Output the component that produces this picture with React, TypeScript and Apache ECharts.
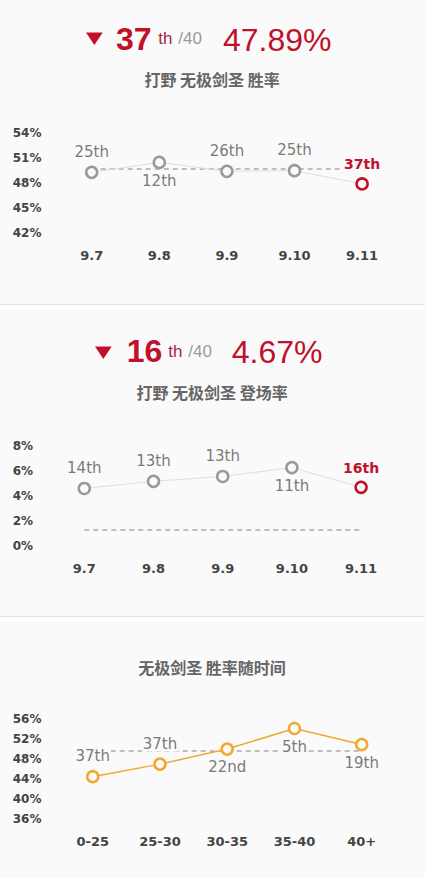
import React, { useEffect, useRef } from "react";
import * as echarts from "echarts";

// ---- data ----
const patches = ["9.7", "9.8", "9.9", "9.10", "9.11"];
const winRate = [49.27, 50.46, 49.39, 49.47, 47.89];
const winRank = ["25th", "12th", "26th", "25th", "37th"];
const winRankSide = ["top", "bottom", "top", "top", "top"];
const winAvg = 49.7;
const winTicks = { min: 42, max: 54, interval: 3 };

const pickRate = [4.58, 5.15, 5.54, 6.25, 4.67];
const pickRank = ["14th", "13th", "13th", "11th", "16th"];
const pickRankSide = ["top", "top", "top", "bottom", "top"];
const pickAvg = 1.26;
const pickTicks = { min: 0, max: 8, interval: 2 };

const durations = ["0-25", "25-30", "30-35", "35-40", "40+"];
const durWin = [44.5, 47.0, 50.0, 54.1, 50.9];
const durRank = ["37th", "37th", "22nd", "5th", "19th"];
const durRankSide = ["top", "top", "bottom", "bottom", "bottom"];
const durAvg = 49.7;
const durTicks = { min: 36, max: 56, interval: 4 };

const header1 = { rank: "37", total: "/40", value: "47.89%", title: "打野 无极剑圣 胜率" };
const header2 = { rank: "16", total: "/40", value: "4.67%", title: "打野 无极剑圣 登场率" };
const title3 = "无极剑圣 胜率随时间";

const BG = "#fafafa";
const RED = "#c0102a";
const GREY_PT = "#999999";
const ORANGE = "#f0a830";
const CJK = "'Noto Sans CJK SC', sans-serif";
const LATIN = "'Liberation Sans', Arial, sans-serif";
const AXISF = "'DejaVu Sans', Verdana, sans-serif";

function buildSeries(
  idx: number,
  cats: string[],
  values: number[],
  ranks: string[],
  sides: string[],
  avg: number,
  lineColor: string,
  lineWidth: number,
  ptColor: string,
  lastRed: boolean
) {
  const data = values.map((v, i) => {
    const isRed = lastRed && i === values.length - 1;
    const side = sides[i];
    return {
      value: v,
      itemStyle: { borderColor: isRed ? RED : ptColor },
      label: {
        show: true,
        formatter: ranks[i],
        position: side,
        distance: side === "top" ? 6 : 4,
        color: isRed ? RED : "#7a7a7a",
        fontWeight: isRed ? "bold" : "normal",
        fontSize: isRed ? 14 : 15,
        fontFamily: AXISF,
        backgroundColor: BG,
        padding: [0, 1],
      },
    };
  });
  return {
    type: "line",
    xAxisIndex: idx,
    yAxisIndex: idx,
    data,
    symbol: "circle",
    symbolSize: 11,
    itemStyle: { color: BG, borderColor: ptColor, borderWidth: 2.5 },
    lineStyle: { color: lineColor, width: lineWidth },
    emphasis: { disabled: true },
    z: 3,
    markLine: {
      silent: true,
      symbol: ["none", "none"],
      label: { show: false },
      lineStyle: { type: [5, 4], color: "#aaaaaa", width: 1.5 },
      z: 2,
      data: [[{ coord: [cats[0], avg] }, { coord: [cats[cats.length - 1], avg] }]],
    },
  };
}

function header(h: typeof header1, triX: number, triTop: number, rankX: number, cy: number, thX: number, totalX: number, smallCy: number, valX: number, titleY: number) {
  return [
    {
      type: "polygon",
      shape: { points: [[triX, triTop], [triX + 16.7, triTop], [triX + 8.35, triTop + 12.5]] },
      style: { fill: RED },
    },
    {
      type: "text",
      x: rankX,
      y: cy,
      style: { text: h.rank, fill: RED, font: `bold 32px ${LATIN}`, align: "left", verticalAlign: "middle", textAlign: "left", textVerticalAlign: "middle" },
    },
    {
      type: "text",
      x: thX,
      y: smallCy,
      style: { text: "th", fill: "#a3283e", font: `17px ${LATIN}`, align: "left", verticalAlign: "middle", textAlign: "left", textVerticalAlign: "middle" },
    },
    {
      type: "text",
      x: totalX,
      y: smallCy,
      style: { text: h.total, fill: "#9a9a9a", font: `17px ${LATIN}`, align: "left", verticalAlign: "middle", textAlign: "left", textVerticalAlign: "middle" },
    },
    {
      type: "text",
      x: valX,
      y: cy + 0.7,
      style: { text: h.value, fill: RED, font: `32px ${LATIN}`, align: "left", verticalAlign: "middle", textAlign: "left", textVerticalAlign: "middle" },
    },
    {
      type: "text",
      x: 212,
      y: titleY,
      style: { text: h.title, fill: "#666666", font: `bold 16px ${CJK}`, align: "center", verticalAlign: "middle", textAlign: "center", textVerticalAlign: "middle" },
    },
  ];
}

export default function App() {
  const ref = useRef<HTMLDivElement>(null);
  useEffect(() => {
    if (!ref.current) return;
    const chart = echarts.init(ref.current, undefined, { renderer: "svg" });

    const grids = [
      { left: 57.9, top: 132.7, width: 338, height: 100.6 },
      { left: 49.7, top: 445.7, width: 346, height: 100 },
      { left: 59.1, top: 719, width: 336.2, height: 100.3 },
    ];
    const yMargins = [45.2, 37, 46.4];
    const ticks = [winTicks, pickTicks, durTicks];
    const cats = [patches, patches, durations];

    const option: any = {
      animation: false,
      backgroundColor: BG,
      grid: grids.map((g) => ({ ...g, containLabel: false })),
      xAxis: cats.map((c, i) => ({
        type: "category",
        gridIndex: i,
        data: c,
        boundaryGap: true,
        axisLine: { show: false },
        axisTick: { show: false },
        splitLine: { show: false },
        axisLabel: { color: "#444444", fontWeight: "bold", fontSize: 13, fontFamily: AXISF, margin: 16 },
      })),
      yAxis: ticks.map((t, i) => ({
        type: "value",
        gridIndex: i,
        min: t.min,
        max: t.max,
        interval: t.interval,
        axisLine: { show: false },
        axisTick: { show: false },
        splitLine: { show: false },
        axisLabel: {
          formatter: "{value}%",
          color: "#444444",
          fontWeight: "bold",
          fontSize: 12,
          fontFamily: AXISF,
          align: "left",
          margin: yMargins[i],
        },
      })),
      series: [
        buildSeries(0, patches, winRate, winRank, winRankSide, winAvg, "#dddddd", 1, GREY_PT, true),
        buildSeries(1, patches, pickRate, pickRank, pickRankSide, pickAvg, "#dddddd", 1, GREY_PT, true),
        buildSeries(2, durations, durWin, durRank, durRankSide, durAvg, ORANGE, 1.5, ORANGE, false),
      ],
      graphic: [
        { type: "rect", shape: { x: 0, y: 305, width: 425, height: 5 }, style: { fill: "#fdfdfd" }, silent: true },
        { type: "line", shape: { x1: 0, y1: 304.5, x2: 425, y2: 304.5 }, style: { stroke: "#e4e4e4", lineWidth: 1.2 }, silent: true },
        { type: "rect", shape: { x: 0, y: 617, width: 425, height: 5 }, style: { fill: "#fdfdfd" }, silent: true },
        { type: "line", shape: { x1: 0, y1: 616.5, x2: 425, y2: 616.5 }, style: { stroke: "#e4e4e4", lineWidth: 1.2 }, silent: true },
        ...header(header1, 86, 32.5, 116, 39.3, 158.3, 178.3, 38.8, 223, 79),
        ...header(header2, 95, 346.5, 126.7, 351.3, 168.3, 188.3, 351, 231.7, 391.7),
        {
          type: "text",
          x: 212,
          y: 666.7,
          style: { text: title3, fill: "#666666", font: `bold 16px ${CJK}`, align: "center", verticalAlign: "middle", textAlign: "center", textVerticalAlign: "middle" },
        },
      ],
    };
    chart.setOption(option);
    return () => chart.dispose();
  }, []);
  return (
    <div
      ref={ref}
      style={{ position: "fixed", left: 0, top: 0, width: 425, height: 878 }}
    />
  );
}
